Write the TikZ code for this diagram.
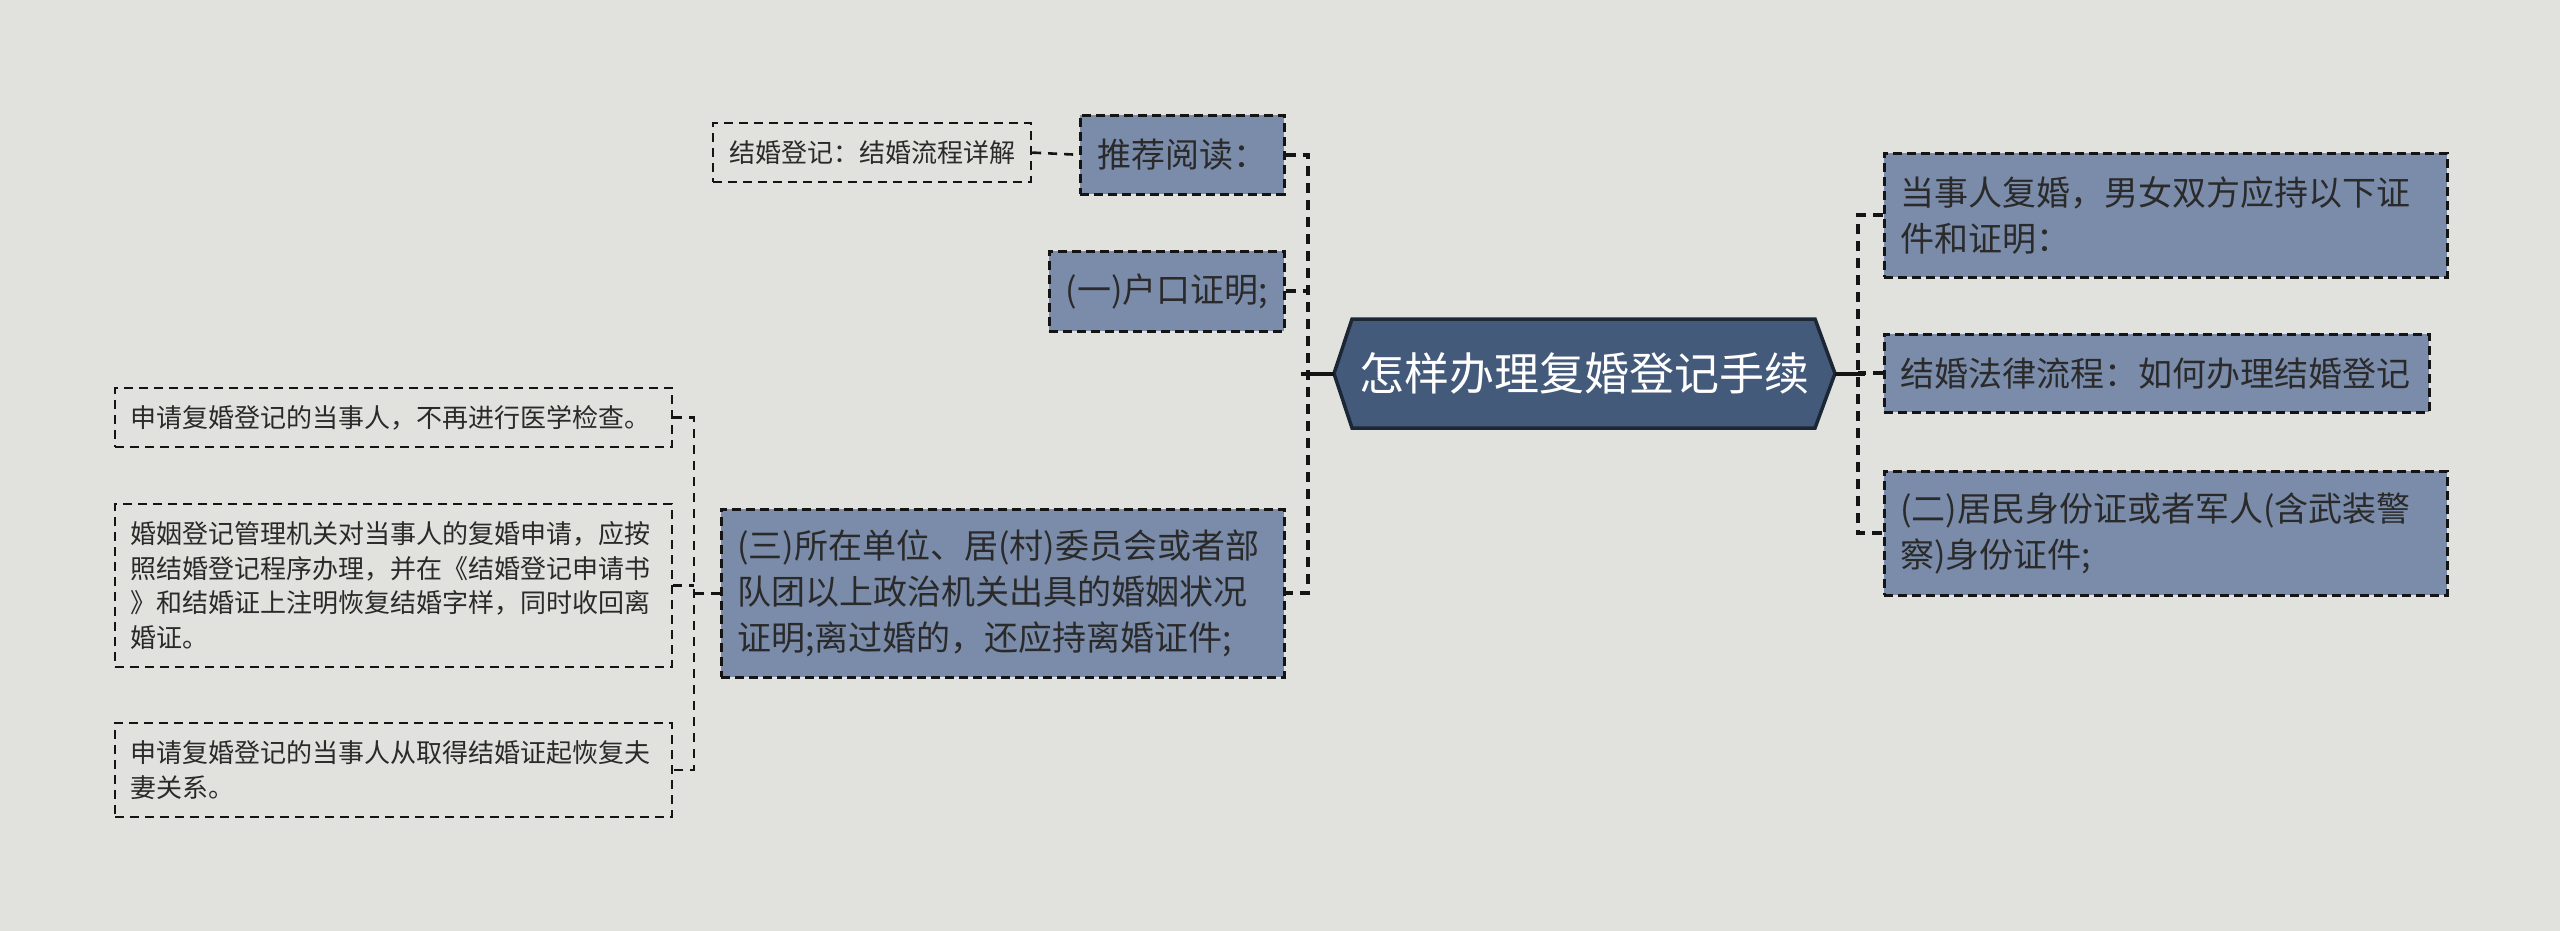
\documentclass[tikz,border=0pt]{standalone}
\usepackage{fontspec}
\setmainfont{Noto Sans CJK SC}
\definecolor{bgcol}{HTML}{E1E2DD}
\definecolor{boxfill}{HTML}{7A8CAA}
\definecolor{hexfill}{HTML}{445A7A}
\definecolor{hexborder}{HTML}{1C2736}
\definecolor{txtdark}{HTML}{2A2A2A}
\definecolor{linecol}{HTML}{141414}
\tikzset{
  lvlbox/.style={draw=linecol, dash pattern=on 9pt off 5pt, line width=2.6pt, fill=boxfill,
    text=txtdark, font=\fontsize{34}{46}\selectfont, inner xsep=16pt, inner ysep=0pt,
    anchor=north west, align=left},
  leafbox/.style={draw=linecol, dash pattern=on 9pt off 6pt, line width=2.2pt,
    text=txtdark, font=\fontsize{26}{34.5}\selectfont, inner xsep=15pt, inner ysep=0pt,
    anchor=north west, align=left},
  conn/.style={draw=linecol, line width=4pt, dash pattern=on 10pt off 7pt},
  leafconn/.style={draw=linecol, line width=2.6pt, dash pattern=on 9pt off 7pt},
  rootconn/.style={draw=linecol, line width=4pt},
}
\begin{document}
\begin{tikzpicture}[x=1pt,y=-1pt]
\useasboundingbox (0,0) rectangle (2560,931);
\fill[bgcol] (0,0) rectangle (2560,931);
% central hexagon
\path[fill=hexfill, draw=hexborder, line width=3.5pt, line join=miter]
  (1334,373.5) -- (1352,319) -- (1815,319) -- (1835,373.5) -- (1815,428) -- (1352,428) -- cycle;
\node[minimum width=501pt, minimum height=109pt, inner sep=0pt, text=white,
  font=\fontsize{45}{50}\selectfont] (root) at (1584.5,373.5) {怎样办理复婚登记手续};
% level 1 left
\node[lvlbox, minimum width=204pt, minimum height=79pt] (B) at (1079,114) {推荐阅读：};
\node[lvlbox, minimum width=235pt, minimum height=80pt] (C) at (1048,250) {(一)户口证明;};
\node[lvlbox, minimum width=563pt, minimum height=168pt, text width=531pt] (D) at (720,508)
  {(三)所在单位、居(村)委员会或者部\\队团以上政治机关出具的婚姻状况\\证明;离过婚的，还应持离婚证件;};
% level 1 right
\node[lvlbox, minimum width=563pt, minimum height=124pt, text width=531pt] (E) at (1883,152)
  {当事人复婚，男女双方应持以下证\\件和证明：};
\node[lvlbox, minimum width=545pt, minimum height=78pt, text width=513pt] (F) at (1883,333)
  {结婚法律流程：如何办理结婚登记};
\node[lvlbox, minimum width=563pt, minimum height=124pt, text width=531pt] (G) at (1883,470)
  {(二)居民身份证或者军人(含武装警\\察)身份证件;};
% leaves
\node[leafbox, minimum width=318pt, minimum height=59pt] (A) at (712,122) {结婚登记：结婚流程详解};
\node[leafbox, minimum width=557pt, minimum height=59pt, text width=527pt] (H) at (114,387)
  {申请复婚登记的当事人，不再进行医学检查。};
\node[leafbox, minimum width=557pt, minimum height=163pt, text width=527pt] (I) at (114,503)
  {婚姻登记管理机关对当事人的复婚申请，应按\\照结婚登记程序办理，并在《结婚登记申请书\\》和结婚证上注明恢复结婚字样，同时收回离\\婚证。};
\node[leafbox, minimum width=557pt, minimum height=94pt, text width=527pt] (J) at (114,722)
  {申请复婚登记的当事人从取得结婚证起恢复夫\\妻关系。};
% connector columns
\coordinate (Lx) at (1308,0);
\coordinate (Rx) at (1858,0);
\coordinate (Qx) at (694,0);
% root connectors
\draw[rootconn] (root.west) -- ([xshift=-7pt]root.west -| Lx);
\draw[rootconn] (root.east) -- ([xshift=7pt]root.east -| Rx);
% left branch
\draw[conn] (B.east) -- (B.east -| Lx) -- (D.east -| Lx) -- (D.east);
\draw[conn] (C.east) -- (C.east -| Lx);
\draw[leafconn] (A.east) -- (B.west);
% right branch
\draw[conn] (E.west) -- (E.west -| Rx) -- (G.west -| Rx) -- (G.west);
\draw[conn] (F.west) -- (F.west -| Rx);
% leaves of D
\draw[leafconn] (H.east) -- (H.east -| Qx) -- (J.east -| Qx) -- (J.east);
\draw[leafconn] (I.east) -- (I.east -| Qx);
\draw[leafconn] (D.west) -- (D.west -| Qx);
\end{tikzpicture}
\end{document}
